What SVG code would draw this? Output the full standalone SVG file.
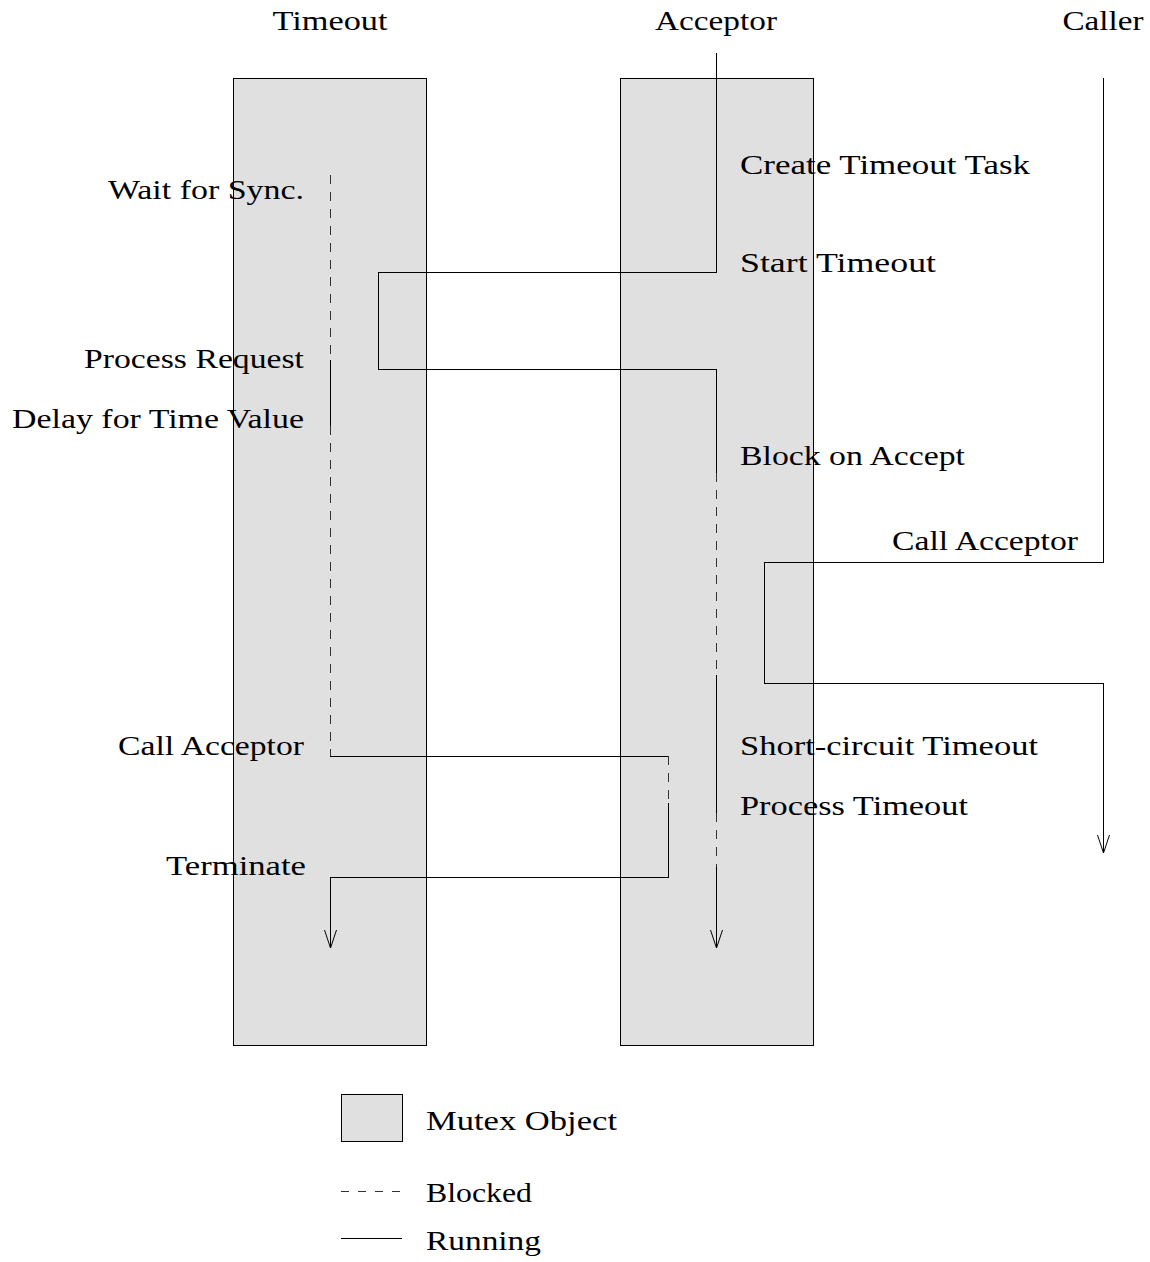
<svg xmlns="http://www.w3.org/2000/svg" width="1150" height="1262" viewBox="0 0 1150 1262">
<style>
text{font-family:"Liberation Serif","DejaVu Serif",serif;font-size:27px;fill:#000}
.mutex{fill:#e0e0e0;stroke:#000;stroke-width:1;shape-rendering:crispEdges}
.run{fill:none;stroke:#000;stroke-width:1}
.ln{shape-rendering:crispEdges}
.blk{fill:none;stroke:#333;stroke-width:1;stroke-dasharray:9 8;shape-rendering:crispEdges}
.r{text-anchor:end}
.m{text-anchor:middle}
</style>
<rect width="1150" height="1262" fill="#fff"/>
<g id="mutex-timeout"><rect class="mutex" x="233" y="78" width="193" height="967"/></g>
<g id="mutex-acceptor"><rect class="mutex" x="620" y="78" width="193" height="967"/></g>
<g id="task-titles">
<text class="m" x="330" y="30" textLength="115" lengthAdjust="spacingAndGlyphs">Timeout</text>
<text class="m" x="716" y="30" textLength="122" lengthAdjust="spacingAndGlyphs">Acceptor</text>
<text class="m" x="1103" y="30" textLength="81" lengthAdjust="spacingAndGlyphs">Caller</text>
</g>
<g id="timeout-labels">
<text class="r" x="304" y="199" textLength="196" lengthAdjust="spacingAndGlyphs">Wait for Sync.</text>
<text class="r" x="304" y="368" textLength="220" lengthAdjust="spacingAndGlyphs">Process Request</text>
<text class="r" x="304" y="428" textLength="292" lengthAdjust="spacingAndGlyphs">Delay for Time Value</text>
<text class="r" x="304" y="755" textLength="186" lengthAdjust="spacingAndGlyphs">Call Acceptor</text>
<text class="r" x="306" y="875" textLength="140" lengthAdjust="spacingAndGlyphs">Terminate</text>
</g>
<g id="acceptor-labels">
<text x="740" y="174" textLength="290" lengthAdjust="spacingAndGlyphs">Create Timeout Task</text>
<text x="740" y="272" textLength="196" lengthAdjust="spacingAndGlyphs">Start Timeout</text>
<text x="740" y="465" textLength="225" lengthAdjust="spacingAndGlyphs">Block on Accept</text>
<text x="740" y="755" textLength="298" lengthAdjust="spacingAndGlyphs">Short-circuit Timeout</text>
<text x="740" y="815" textLength="228" lengthAdjust="spacingAndGlyphs">Process Timeout</text>
</g>
<g id="caller-labels">
<text x="892" y="550" textLength="186" lengthAdjust="spacingAndGlyphs">Call Acceptor</text>
</g>
<g id="connectors">
<path class="blk" d="M330 175 V360"/>
<path class="run ln" d="M330 360 V426"/>
<path class="blk" d="M330 426 V756"/>
<path class="run ln" d="M330 756 H668"/>
<path class="blk" d="M668 756 V803"/>
<path class="run ln" d="M668 803 V877 H330 V948"/>
<path class="run" d="M324.5 930 L330.5 948 L336.5 930"/>
<path class="run ln" d="M716 53 V272 H378 V369 H716 V473"/>
<path class="blk" d="M716 473 V675"/>
<path class="run ln" d="M716 675 V813"/>
<path class="blk" d="M716 813 V867"/>
<path class="run ln" d="M716 867 V948"/>
<path class="run" d="M710.5 930 L716.5 948 L722.5 930"/>
<path class="run ln" d="M1103 78 V562 H764 V683 H1103 V853"/>
<path class="run" d="M1097.5 835 L1103.5 853 L1109.5 835"/>
</g>
<g id="legend">
<rect class="mutex" x="341" y="1094" width="61" height="47"/>
<text x="426" y="1130" textLength="191" lengthAdjust="spacingAndGlyphs">Mutex Object</text>
<path class="blk" d="M341 1191 H402" style="stroke-dasharray:8 9"/>
<text x="426" y="1202" textLength="106" lengthAdjust="spacingAndGlyphs">Blocked</text>
<path class="run ln" d="M341 1238 H402"/>
<text x="426" y="1250" textLength="115" lengthAdjust="spacingAndGlyphs">Running</text>
</g>
</svg>
